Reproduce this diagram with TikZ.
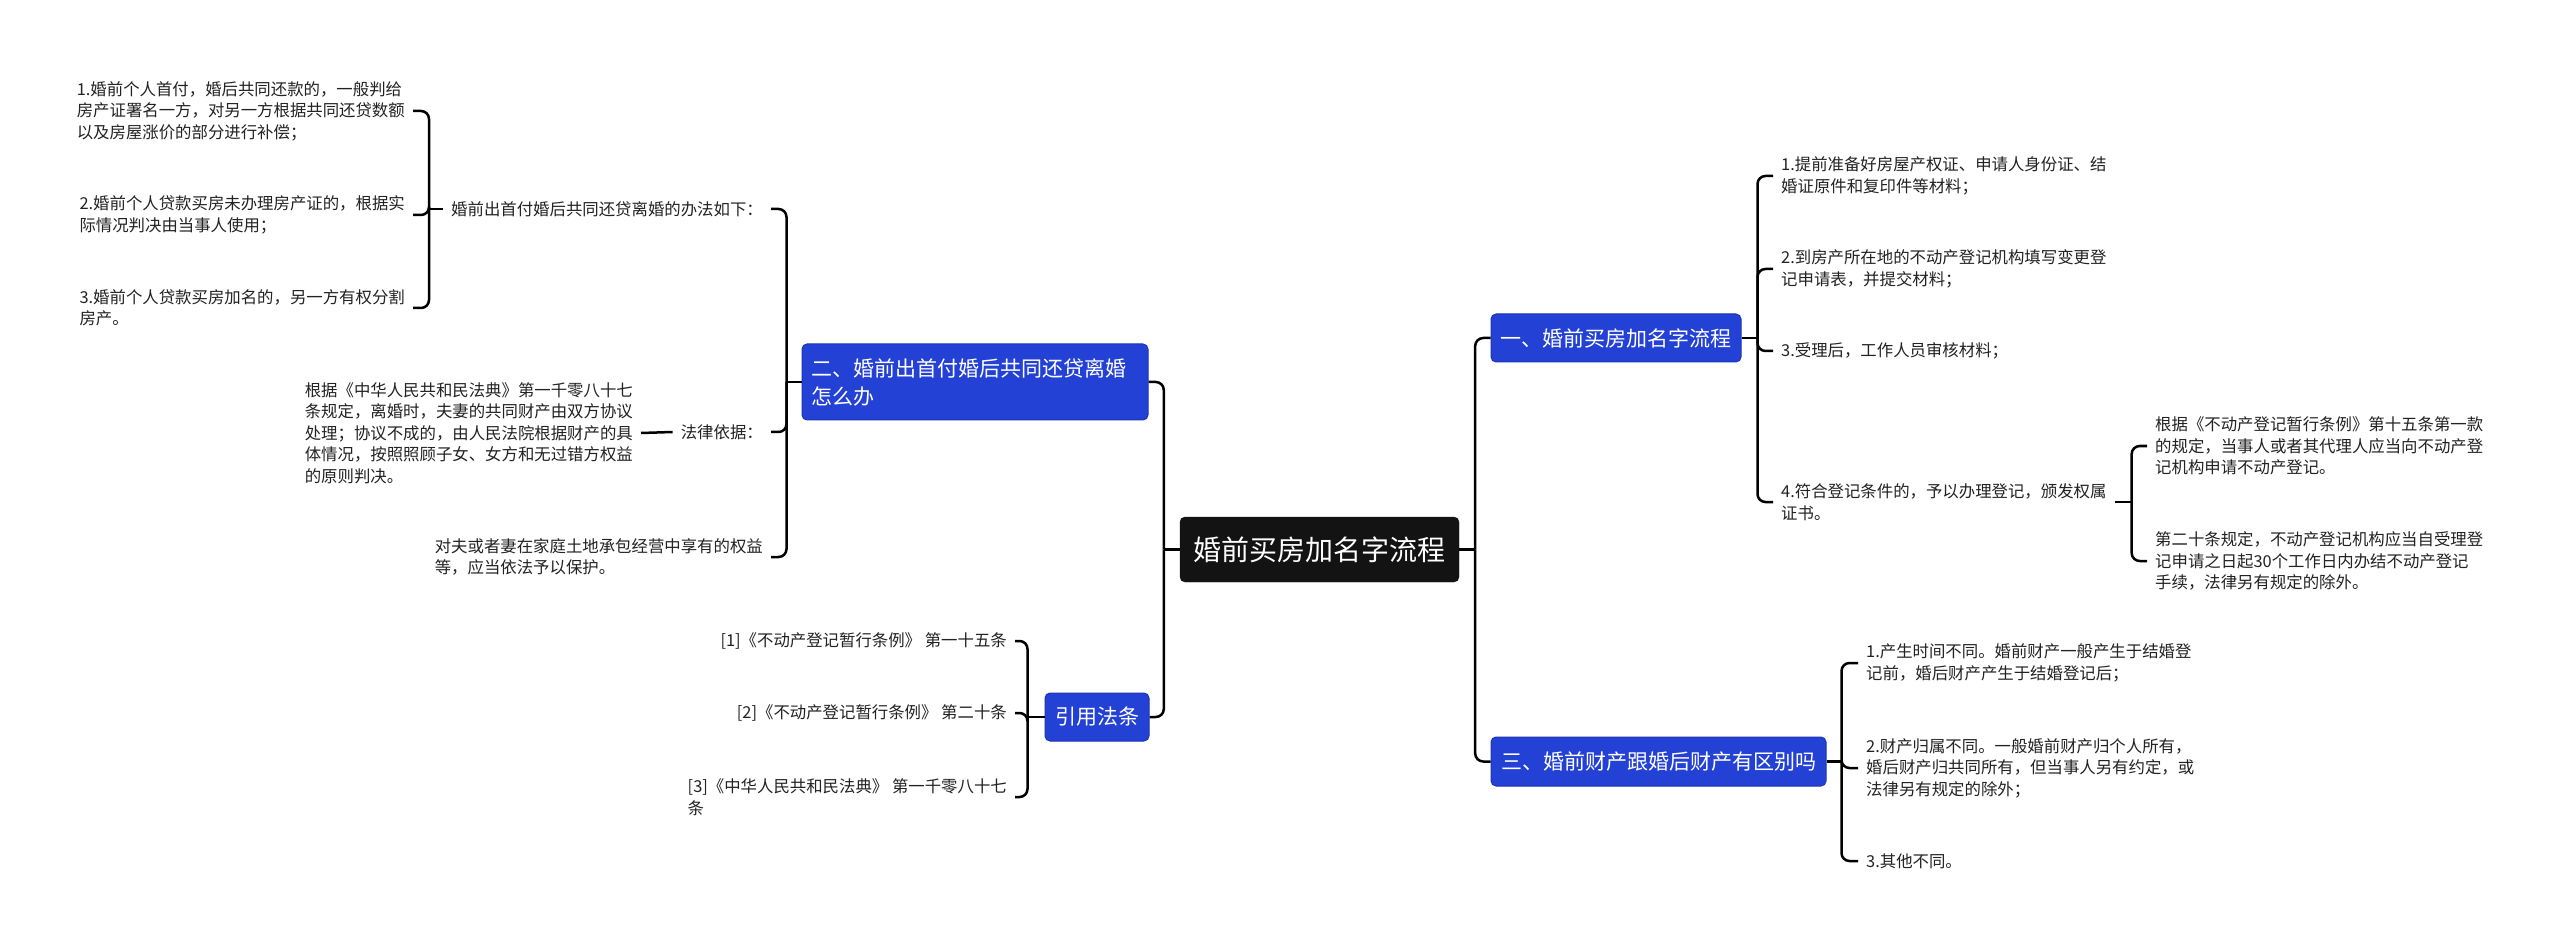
\documentclass[tikz,border=0pt]{standalone}
\usepackage{fontspec}
\setmainfont{Noto Sans CJK SC}
\usetikzlibrary{calc}
\definecolor{bblue}{HTML}{2441D6}
\definecolor{bblueedge}{HTML}{1C35B5}
\definecolor{rootbg}{HTML}{131313}
\definecolor{txt}{HTML}{222222}
\tikzset{
  conn/.style={line width=2.5pt, black},
  rconn/.style={conn, rounded corners=8pt},
  rootbox/.style={fill=rootbg, draw=rootbg, rounded corners=5pt, text=white,
    font=\fontsize{28}{34}\selectfont, inner sep=0pt, align=center},
  branchbox/.style={fill=bblue, draw=bblueedge, line width=1pt, rounded corners=5pt, text=white,
    font=\fontsize{21}{28}\selectfont, inner sep=0pt, align=center},
  leaf/.style={text=txt, font=\fontsize{16.4}{21.5}\selectfont, inner xsep=8pt, inner ysep=1pt, align=left},
}
\begin{document}
\begin{tikzpicture}[x=1pt,y=-1pt]
\useasboundingbox[fill=white] (0,0) rectangle (2560,949);

% root
\node[rootbox, minimum width=279pt, minimum height=65pt] (root) at (1319.5,549.5) {婚前买房加名字流程};

% branches
\node[branchbox, minimum width=250pt, minimum height=48pt] (b1) at (1616,338) {一、婚前买房加名字流程};
\node[branchbox, minimum width=335pt, minimum height=49pt] (b3) at (1658.5,761.5) {三、婚前财产跟婚后财产有区别吗};
\node[branchbox, align=left, text width=328pt, inner xsep=9pt, minimum height=76pt] (b2) at (975,382) {二、婚前出首付婚后共同还贷离婚\\怎么办};
\node[branchbox, minimum width=104pt, minimum height=48pt] (b4) at (1097,717) {引用法条};

% branch 1 children
\node[leaf, anchor=west] (c11) at (1773,176) {1.提前准备好房屋产权证、申请人身份证、结\\婚证原件和复印件等材料；};
\node[leaf, anchor=west] (c12) at (1773,269) {2.到房产所在地的不动产登记机构填写变更登\\记申请表，并提交材料；};
\node[leaf, anchor=west] (c13) at (1773,351) {3.受理后，工作人员审核材料；};
\node[leaf, anchor=west] (c14) at (1773,502) {4.符合登记条件的，予以办理登记，颁发权属\\证书。};
\node[leaf, anchor=west] (c141) at (2147,446) {根据《不动产登记暂行条例》第十五条第一款\\的规定，当事人或者其代理人应当向不动产登\\记机构申请不动产登记。};
\node[leaf, anchor=west] (c142) at (2147,561) {第二十条规定，不动产登记机构应当自受理登\\记申请之日起30个工作日内办结不动产登记\\手续，法律另有规定的除外。};

% branch 3 children
\node[leaf, anchor=west] (c31) at (1858,663) {1.产生时间不同。婚前财产一般产生于结婚登\\记前，婚后财产产生于结婚登记后；};
\node[leaf, anchor=west] (c32) at (1858,768) {2.财产归属不同。一般婚前财产归个人所有，\\婚后财产归共同所有，但当事人另有约定，或\\法律另有规定的除外；};
\node[leaf, anchor=west] (c33) at (1858,861) {3.其他不同。};

% branch 2 children
\node[leaf, anchor=east] (m1) at (771,209) {婚前出首付婚后共同还贷离婚的办法如下：};
\node[leaf, anchor=east] (m2) at (771,432) {法律依据：};
\node[leaf, anchor=east] (m3) at (771,557) {对夫或者妻在家庭土地承包经营中享有的权益\\等，应当依法予以保护。};
\node[leaf, anchor=east] (g1) at (641,433) {根据《中华人民共和民法典》第一千零八十七\\条规定，离婚时，夫妻的共同财产由双方协议\\处理；协议不成的，由人民法院根据财产的具\\体情况，按照照顾子女、女方和无过错方权益\\的原则判决。};
\node[leaf, anchor=east] (l1) at (413,111) {1.婚前个人首付，婚后共同还款的，一般判给\\房产证署名一方，对另一方根据共同还贷数额\\以及房屋涨价的部分进行补偿；};
\node[leaf, anchor=east] (l2) at (413,215) {2.婚前个人贷款买房未办理房产证的，根据实\\际情况判决由当事人使用；};
\node[leaf, anchor=east] (l3) at (413,308) {3.婚前个人贷款买房加名的，另一方有权分割\\房产。};

% citations
\node[leaf, anchor=east] (k1) at (1015,641) {[1]《不动产登记暂行条例》 第一十五条};
\node[leaf, anchor=east] (k2) at (1015,713) {[2]《不动产登记暂行条例》 第二十条};
\node[leaf, anchor=east] (k3) at (1015,797) {[3]《中华人民共和民法典》 第一千零八十七\\条};

% junction coordinates
\coordinate (jr) at ($(root.east)+(16,0)$);
\coordinate (jl) at ($(root.west)+(-16,0)$);
\coordinate (j1) at ($(b1.east)+(16,0)$);
\coordinate (j14) at ($(c14.east)+(17,0)$);
\coordinate (j3) at ($(b3.east)+(15,0)$);
\coordinate (j2) at ($(b2.west)+(-15,0)$);
\coordinate (jm1) at ($(m1.west)+(-14,0)$);
\coordinate (j4) at ($(b4.west)+(-17,0)$);

% root connectors
\draw[conn] (root.east) -- (jr);
\draw[rconn] (jr) |- (b1.west);
\draw[rconn] (jr) |- (b3.west);
\draw[conn] (root.west) -- (jl);
\draw[rconn] (jl) |- (b2.east);
\draw[rconn] (jl) |- (b4.east);

% branch 1
\draw[conn] (b1.east) -- (j1);
\draw[rconn] (j1) |- (c11.west);
\draw[rconn] (j1) |- (c12.west);
\draw[rconn] (j1) |- (c13.west);
\draw[rconn] (j1) |- (c14.west);
\draw[conn] (c14.east) -- (j14);
\draw[rconn] (j14) |- (c141.west);
\draw[rconn] (j14) |- (c142.west);

% branch 3
\draw[conn] (b3.east) -- (j3);
\draw[rconn] (j3) |- (c31.west);
\draw[rconn] (j3) |- (c32.west);
\draw[rconn] (j3) |- (c33.west);

% branch 2
\draw[conn] (b2.west) -- (j2);
\draw[rconn] (j2) |- (m1.east);
\draw[rconn] (j2) |- (m2.east);
\draw[rconn] (j2) |- (m3.east);
\draw[conn] (m1.west) -- (jm1);
\draw[rconn] (jm1) |- (l1.east);
\draw[rconn] (jm1) |- (l2.east);
\draw[rconn] (jm1) |- (l3.east);
\draw[conn] (m2.west) -- (g1.east);

% citations
\draw[conn] (b4.west) -- (j4);
\draw[rconn] (j4) |- (k1.east);
\draw[rconn] (j4) |- (k2.east);
\draw[rconn] (j4) |- (k3.east);
\end{tikzpicture}
\end{document}
